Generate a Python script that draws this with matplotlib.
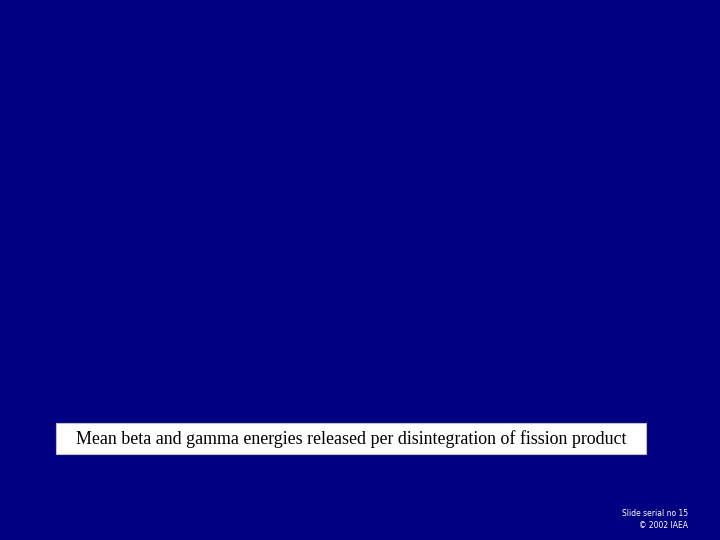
import matplotlib
matplotlib.use('Agg')
import matplotlib.pyplot as plt
from matplotlib.patches import Rectangle

# 幻灯片文本
title_text = "Mean beta and gamma energies released per disintegration of fission product"
footer_lines = ["Slide serial no 15", "\u00a9 2002 IAEA"]

W, H = 720, 540
fig = plt.figure(figsize=(7.2, 5.4), dpi=100)
fig.patch.set_facecolor('#000080')
ax = fig.add_axes([0, 0, 1, 1])
ax.set_xlim(0, W)
ax.set_ylim(H, 0)
ax.axis('off')

# 白色标题框
ax.add_patch(Rectangle((56, 423), 590, 31, facecolor='white', edgecolor='#c0c0c0', lw=0.8))
ax.text(351, 439, title_text, ha='center', va='center', fontsize=12.9,
        family='Liberation Serif', color='black')

# 页脚
ax.text(688, 513, footer_lines[0], ha='right', va='center', fontsize=5.5,
        family='DejaVu Sans', color='white')
ax.text(688, 525, footer_lines[1], ha='right', va='center', fontsize=5.5,
        family='DejaVu Sans', color='white')

fig.savefig('out.png', dpi=100, facecolor=fig.get_facecolor())
